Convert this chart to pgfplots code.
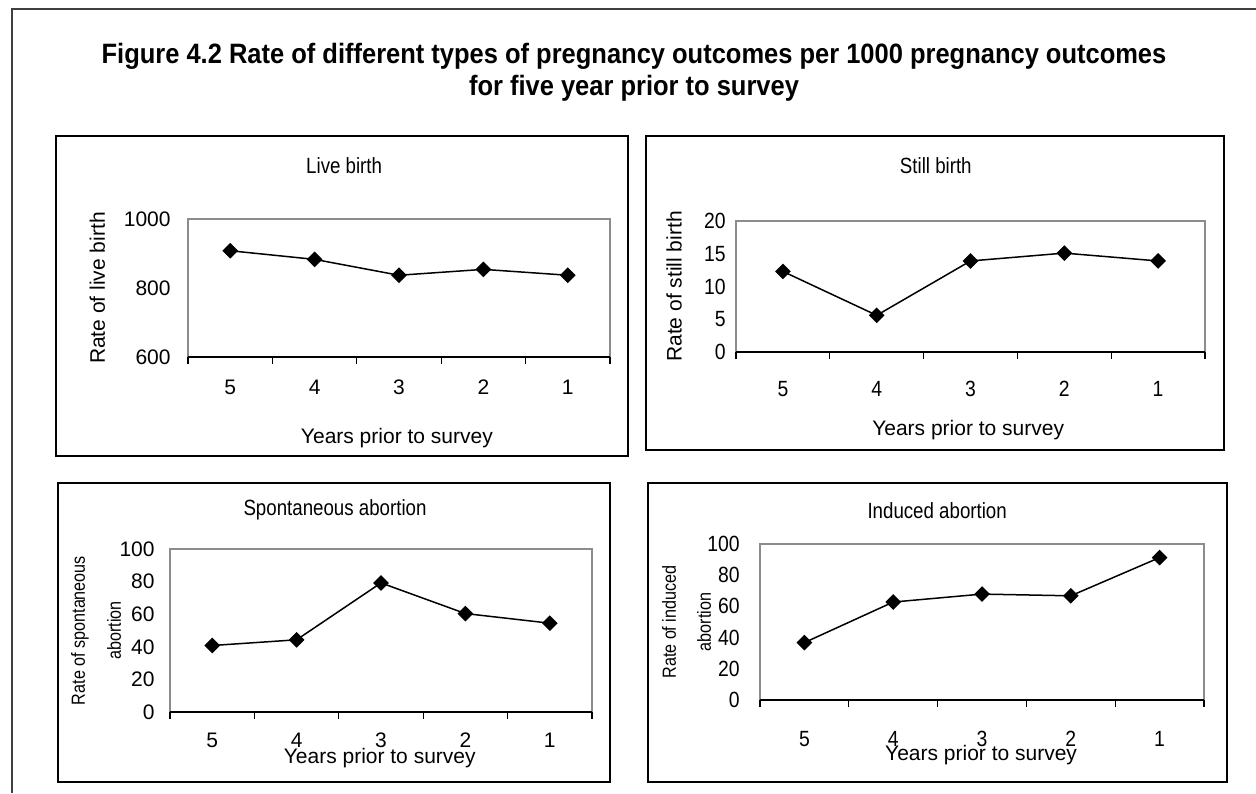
\documentclass[border=0pt]{standalone}
\usepackage{fontspec}
\setmainfont{Liberation Sans}
\newfontfamily\narrowfont{Liberation Sans}[FakeStretch=0.85]
\newfontfamily\titlefont{Liberation Sans}[FakeStretch=0.91]
\newfontfamily\midfont{Liberation Sans}[FakeStretch=0.88]
\usepackage{pgfplots}
\pgfplotsset{compat=1.18}

\pgfplotsset{
  every axis title shift=0pt,
  panel/.style={
    scale only axis, anchor=south west,
    xmin=0, xmax=5,
    xtick={0.5,1.5,2.5,3.5,4.5},
    xticklabels={5,4,3,2,1},
    major tick length=0pt,
    xtick pos=bottom, ytick pos=left,
    extra x ticks={0,1,2,3,4,5},
    extra x tick labels={},
    extra x tick style={major tick length=3.5pt, tick align=outside,
      tick style={draw=black, line width=0.6pt}},
    axis line style={draw=black!45, line width=0.8pt},
    /pgf/number format/assume math mode=true,
    /pgf/number format/1000 sep={},
    ticklabel style={font=\fontsize{10.5}{12}\selectfont},
    xticklabel style={anchor=center, inner sep=0pt},
    yticklabel style={anchor=east, inner sep=0pt},
    label style={font=\fontsize{10.5}{12}\selectfont},
    title style={font=\narrowfont\fontsize{11}{12}\selectfont, anchor=center},
    xlabel style={anchor=center},
    ylabel style={anchor=center, align=center},
    clip=false,
  },
  dataline/.style={black, line width=0.75pt, mark=square*,
    mark size=2.4pt, mark options={rotate=45, fill=black}},
}

\begin{document}
\begin{tikzpicture}
\useasboundingbox (0,0) rectangle (628pt,-396.5pt);
\begin{scope}[x=0.5pt,y=-0.5pt]
  \draw[black!75, line width=0.7pt] (12,793) -- (12,9) -- (1256,9);
  \draw[black, line width=0.9pt] (56,136) rectangle (628,456);
  \draw[black, line width=0.9pt] (646,136) rectangle (1224,450);
  \draw[black, line width=0.9pt] (58,483) rectangle (610,782);
  \draw[black, line width=0.9pt] (648,483) rectangle (1227,782);
  \node[font=\titlefont\bfseries\fontsize{14}{16}\selectfont, anchor=base]
    at (634,63) {Figure 4.2 Rate of different types of pregnancy outcomes per 1000 pregnancy outcomes};
  \node[font=\titlefont\bfseries\fontsize{14}{16}\selectfont, anchor=base]
    at (634,95) {for five year prior to survey};
\end{scope}

% Live birth
\begin{axis}[panel, at={(94pt,-178.5pt)}, width=211pt, height=69pt,
  ymin=600, ymax=1000, ytick={600,800,1000},
  xticklabel style={yshift=-15pt}, yticklabel style={xshift=-8.5pt},
  title={Live birth}, title style={at={(axis description cs:0.370,1.384)}},
  xlabel={Years prior to survey}, xlabel style={at={(axis description cs:0.495,-0.587)}},
  ylabel={Rate of live birth}, ylabel style={at={(axis description cs:-0.2145,0.5)}},
]
\addplot[dataline] coordinates {(0.5,908) (1.5,883) (2.5,837) (3.5,854) (4.5,837)};
\draw[black, line width=0.8pt] (rel axis cs:0,0) -- (rel axis cs:1,0);
\end{axis}

% Still birth
\begin{axis}[panel, at={(368pt,-176pt)}, width=234.5pt, height=65.5pt,
  ymin=0, ymax=20, ytick={0,5,10,15,20},
  ticklabel style={font=\midfont\fontsize{11}{12}\selectfont},
  xticklabel style={yshift=-18.5pt}, yticklabel style={xshift=-5pt},
  title={Still birth}, title style={at={(axis description cs:0.426,1.42)}},
  xlabel={Years prior to survey}, xlabel style={at={(axis description cs:0.495,-0.595)}},
  ylabel={Rate of  still birth}, ylabel style={at={(axis description cs:-0.132,0.5)}},
]
\addplot[dataline] coordinates {(0.5,12.3) (1.5,5.6) (2.5,13.9) (3.5,15.1) (4.5,13.9)};
\draw[black, line width=0.8pt] (rel axis cs:0,0) -- (rel axis cs:1,0);
\end{axis}

% Spontaneous abortion
\begin{axis}[panel, at={(85pt,-356pt)}, width=211pt, height=81.5pt,
  ymin=0, ymax=100, ytick={0,20,40,60,80,100},
  xticklabel style={yshift=-14pt}, yticklabel style={xshift=-7.5pt},
  title={Spontaneous abortion}, title style={at={(axis description cs:0.391,1.239)}},
  xlabel={Years prior to survey}, xlabel style={at={(axis description cs:0.497,-0.282)}},
  ylabel={Rate of spontaneous\\abortion},
  ylabel style={at={(axis description cs:-0.175,0.5)}, font=\narrowfont\fontsize{9.5}{18}\selectfont},
]
\addplot[dataline] coordinates {(0.5,40.8) (1.5,44.3) (2.5,79.2) (3.5,60.4) (4.5,54.5)};
\draw[black, line width=0.8pt] (rel axis cs:0,0) -- (rel axis cs:1,0);
\end{axis}

% Induced abortion
\begin{axis}[panel, at={(380pt,-350pt)}, width=222pt, height=78pt,
  ymin=0, ymax=100, ytick={0,20,40,60,80,100},
  ticklabel style={font=\midfont\fontsize{11}{12}\selectfont},
  xticklabel style={yshift=-19.5pt}, yticklabel style={xshift=-10pt},
  title={Induced abortion}, title style={at={(axis description cs:0.399,1.212)}},
  xlabel={Years prior to survey}, xlabel style={at={(axis description cs:0.498,-0.353)}},
  ylabel={Rate of induced\\abortion},
  ylabel style={at={(axis description cs:-0.1655,0.5)}, font=\narrowfont\fontsize{9.5}{17.5}\selectfont},
]
\addplot[dataline] coordinates {(0.5,36.8) (1.5,62.8) (2.5,67.9) (3.5,66.8) (4.5,91.3)};
\draw[black, line width=0.8pt] (rel axis cs:0,0) -- (rel axis cs:1,0);
\end{axis}
\end{tikzpicture}
\end{document}
